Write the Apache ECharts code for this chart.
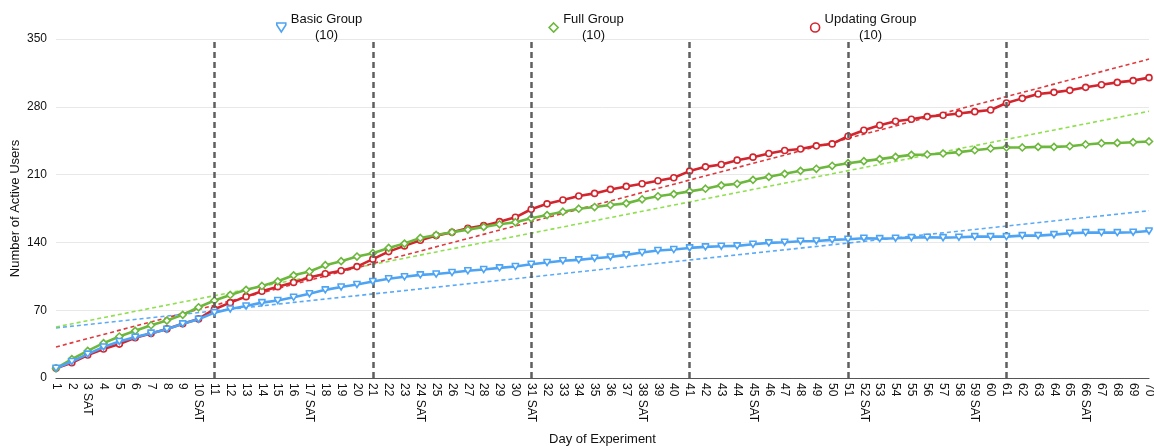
<!DOCTYPE html>
<html>
<head>
<meta charset="utf-8">
<script src="https://cdn.jsdelivr.net/npm/echarts@6/dist/echarts.min.js"></script>
<style>
html,body{margin:0;padding:0;background:#fff;}
#chart{width:1154px;height:446px;}
</style>
</head>
<body>
<div id="chart"></div>
<script>
const days = Array.from({length: 70}, (_, i) => i + 1);
const satDays = [3, 10, 17, 24, 31, 38, 45, 52, 59, 66];
const dayLabels = days.map(d => satDays.includes(d) ? d + ' SAT' : String(d));
const markerDays = [11, 21, 31, 41, 51, 61];
const seriesNames = ['Basic Group', 'Full Group', 'Updating Group'];
const groupSizes = [10, 10, 10];

const basic = [10, 17, 24.7, 32, 37.7, 42.2, 46.3, 50.4, 55.9, 60.7,
  67.5, 71.3, 74.4, 77.8, 80, 83.3, 87, 91, 93.9, 96.6,
  99.7, 102.4, 104.5, 106.5, 107.3, 108.9, 110.7, 112, 113.7, 115.1,
  117.5, 119.2, 121, 122, 123.7, 125, 127.1, 129.5, 131.6, 132.6,
  134.3, 135.4, 136.1, 136.4, 138.1, 139.5, 140.2, 141.2, 141.5, 142.6,
  143.3, 144.3, 143.9, 144.3, 144.9, 145.3, 144.9, 145.3, 146, 146,
  146, 147, 147, 148, 149.5, 150.1, 150.1, 150.1, 150.5, 151.8];
const full = [10, 19.5, 28, 36, 42.8, 48.7, 54.5, 59.3, 65.2, 73,
  80, 85.7, 91, 95, 99.8, 106, 110, 116.5, 120.6, 125.4,
  128.9, 134.3, 138.8, 144.6, 147.7, 150.5, 153.2, 156, 158.7, 160.8,
  164.9, 168.2, 171.7, 174.8, 176.5, 178.6, 180.3, 184.5, 187.6, 189.9,
  192.7, 195.4, 198.9, 200.5, 204.6, 207.7, 210.8, 213.9, 216, 219.1,
  221.8, 223.9, 226, 228.3, 230.4, 230.8, 231.8, 233.2, 235.2, 237,
  238, 238, 238.6, 238.6, 239.3, 241.1, 242.4, 242.7, 243.4, 244.2];
const updating = [10, 15.7, 23.7, 30, 35, 41.5, 46, 50.7, 56, 61,
  71, 77.8, 84, 89.5, 94.3, 98.7, 103.8, 107.6, 110.7, 115,
  122.7, 130.5, 136.4, 142.2, 147, 150.5, 154.6, 157.3, 161.4, 165.9,
  174.2, 179.8, 183.7, 187.9, 190.6, 194.7, 197.8, 200.5, 203.6, 206.7,
  213.6, 218, 220.5, 224.9, 228, 231.8, 234.9, 236.5, 239.7, 241.7,
  249.6, 255.8, 261, 265.1, 267.1, 269.9, 271.2, 273, 275, 276.7,
  283.9, 288.7, 293.2, 294.9, 297, 300.1, 302.8, 305.2, 307, 310.1];
const yTicks = [0, 70, 140, 210, 280, 350];

const colors = ['#4ea4f4', '#6cb83c', '#d2252e'];
const trendColors = ['#5aaaf8', '#8fe04e', '#e0393d'];

// least-squares linear trend (from the data arrays)
function trend(vals) {
  const n = vals.length;
  const xs = vals.map((_, i) => i);
  const mx = xs.reduce((a, b) => a + b, 0) / n;
  const my = vals.reduce((a, b) => a + b, 0) / n;
  let sxy = 0, sxx = 0;
  for (let i = 0; i < n; i++) { sxy += (xs[i] - mx) * (vals[i] - my); sxx += (xs[i] - mx) ** 2; }
  const b = sxy / sxx, a = my - b * mx;
  return [[0, a], [n - 1, a + b * (n - 1)]];
}

const font = 'Liberation Sans, Arial, Helvetica, sans-serif';
const dataSets = [basic, full, updating];
const symbols = ['path://M0,0 L10,0 L10,2.2 L5,10 L0,2.2 Z', 'diamond', 'circle'];
const symbolSizes = [6, 7, 6];

const series = [];
dataSets.forEach((d, i) => {
  series.push({
    name: seriesNames[i] + '_trend', type: 'line', data: trend(d),
    showSymbol: false, silent: true, z: 1,
    lineStyle: {color: trendColors[i], width: 1.6, type: [4, 3]}
  });
});
[2, 1, 0].forEach(i => {
  series.push({
    name: seriesNames[i], type: 'line', data: dataSets[i],
    symbol: symbols[i], symbolSize: symbolSizes[i], showAllSymbol: true,
    z: 3 + (2 - i),
    itemStyle: {color: '#fff', borderColor: colors[i], borderWidth: 1.6},
    lineStyle: {color: colors[i], width: 2.6},
    markLine: i === 2 ? {
      silent: true, symbol: ['none', 'none'], label: {show: false},
      lineStyle: {color: '#5f5f5f', width: 2.5, type: [6, 4]},
      data: markerDays.map(d => ({xAxis: d - 1}))
    } : undefined
  });
});

const chart = echarts.init(document.getElementById('chart'));
chart.setOption({
  animation: false,
  textStyle: {fontFamily: font},
  grid: {left: 56, right: 5, top: 39, bottom: 68, containLabel: false, outerBoundsMode: 'none'},
  legend: {
    left: 271, top: 8, itemGap: 186, itemWidth: 9, itemHeight: 9,
    data: seriesNames.map((n, i) => ({
      name: n,
      icon: symbols[i],
      itemStyle: {color: '#fff', borderColor: colors[i], borderWidth: 1.6}
    })),
    formatter: name => '{t|' + name + '}\n{t|(' + groupSizes[seriesNames.indexOf(name)] + ')}',
    textStyle: {
      fontFamily: font, color: '#111',
      rich: {t: {fontSize: 13, lineHeight: 16, align: 'center', fontFamily: font, color: '#111'}}
    }
  },
  xAxis: {
    type: 'category', data: dayLabels, boundaryGap: false,
    name: 'Day of Experiment', nameLocation: 'middle', nameGap: 55, nameMoveOverlap: false,
    nameTextStyle: {fontSize: 13, color: '#111', fontFamily: font},
    axisLine: {lineStyle: {color: '#555', width: 1.2}},
    axisTick: {show: false},
    axisLabel: {rotate: -90, interval: 0, fontSize: 12, color: '#111', margin: 5, fontFamily: font},
    splitLine: {show: false}
  },
  yAxis: {
    type: 'value', min: 0, max: 350, interval: 70,
    name: 'Number of Active Users', nameLocation: 'middle', nameGap: 34, nameRotate: 90,
    nameMoveOverlap: false,
    nameTextStyle: {fontSize: 13, color: '#111', fontFamily: font},
    axisLine: {show: false}, axisTick: {show: false},
    axisLabel: {fontSize: 12, color: '#111', margin: 9, fontFamily: font,
      formatter: v => yTicks.includes(v) ? String(v) : ''},
    splitLine: {lineStyle: {color: '#e8e8e8', width: 1}}
  },
  series: series
});
</script>
</body>
</html>
